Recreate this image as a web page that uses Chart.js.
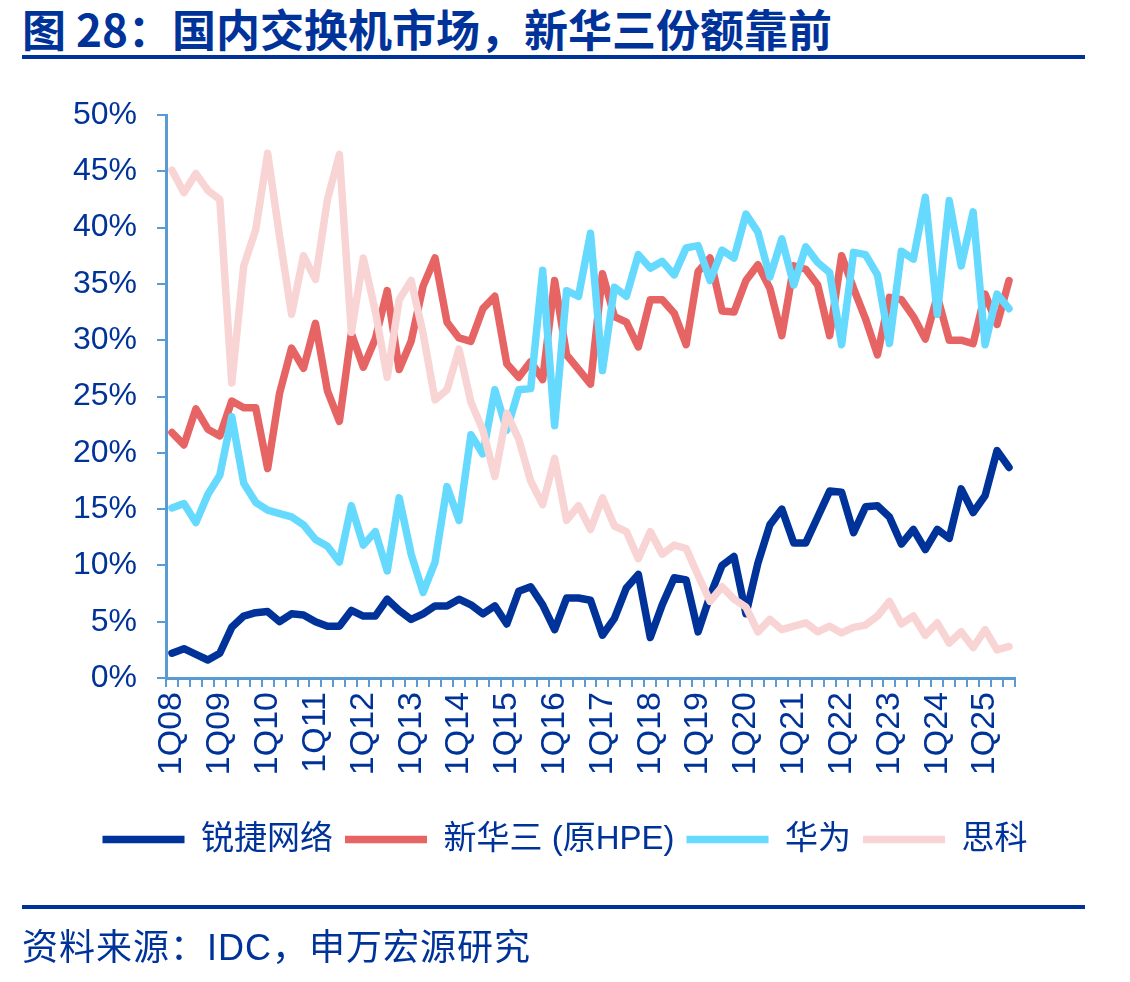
<!DOCTYPE html>
<html>
<head>
<meta charset="utf-8">
<script src="https://cdn.jsdelivr.net/npm/chart.js@4.4.1/dist/chart.umd.min.js"></script>
<style>
  html, body { margin:0; padding:0; background:#fff; }
  body { width:1130px; height:982px; position:relative; overflow:hidden; }
  .title { position:absolute; left:22px; top:2px; font:bold 44px/52px "Noto Sans CJK SC", sans-serif; color:#003399; white-space:nowrap; }
  .rule { position:absolute; left:22px; width:1063px; height:4px; background:#003399; }
  .source { position:absolute; left:22px; top:926px; font:36px/44px "Liberation Sans", "Noto Sans CJK SC", sans-serif; color:#003399; letter-spacing:1px; white-space:nowrap; }
  #chart { position:absolute; left:0; top:0; }
</style>
</head>
<body>
<div class="title">图 28：国内交换机市场，新华三份额靠前</div>
<div class="rule" style="top:55px"></div>
<canvas id="chart" width="1130" height="982"></canvas>
<div class="rule" style="top:905px"></div>
<div class="source">资料来源：IDC，申万宏源研究</div>
<script>
// quarters 1Q08 .. 3Q25
var years = ['08','09','10','11','12','13','14','15','16','17','18','19','20','21','22','23','24','25'];
var quarters = [];
years.forEach(function (y) {
    for (var q = 1; q <= 4; q++) {
        if (y === '25' && q > 3) break;
        quarters.push(q + 'Q' + y);
    }
});

var seriesNames = ['锐捷网络', '新华三 (原HPE)', '华为', '思科'];

// market share, %
var ruijie = [2.2,2.6,2.1,1.6,2.2,4.5,5.5,5.8,5.9,5.0,5.7,5.6,5.0,4.6,4.6,6.0,5.5,5.5,7.0,6.0,
              5.2,5.7,6.4,6.4,7.0,6.5,5.7,6.4,4.8,7.7,8.1,6.5,4.3,7.1,7.1,6.9,3.8,5.3,8.0,9.2,
              3.6,6.5,8.9,8.7,4.1,7.3,10.0,10.8,5.7,10.2,13.6,15.0,12.0,12.0,14.3,16.6,16.5,12.9,15.2,15.3,
              14.3,11.9,13.2,11.4,13.2,12.4,16.8,14.7,16.2,20.2,18.7];
var h3c    = [21.8,20.7,23.9,22.1,21.5,24.6,24.0,24.0,18.6,25.3,29.3,27.5,31.5,25.5,22.8,30.6,27.6,30.1,34.4,27.4,
              29.9,34.8,37.3,31.6,30.2,29.9,32.8,33.9,27.9,26.7,28.1,26.5,35.3,28.7,27.4,26.1,35.9,32.1,31.6,29.4,
              33.6,33.6,32.4,29.6,36.1,37.3,32.6,32.5,35.3,36.7,34.6,30.4,36.6,36.3,34.9,30.4,37.5,34.6,31.9,28.7,
              33.8,33.6,32.1,30.1,33.9,30.0,30.0,29.7,34.1,31.4,35.3];
var huawei = [15.1,15.5,13.8,16.3,18.0,23.2,17.3,15.6,14.9,14.6,14.3,13.6,12.3,11.7,10.3,15.3,11.8,13.0,9.5,16.0,
              11.0,7.6,10.3,17.0,14.0,21.6,19.9,25.6,22.0,25.6,25.7,36.2,22.4,34.4,33.9,39.5,27.3,34.7,33.9,37.6,
              36.4,37.0,35.8,38.2,38.4,35.3,38.0,37.3,41.2,39.6,35.6,39.0,34.9,38.3,36.9,36.0,29.6,37.8,37.6,35.8,
              29.7,37.9,37.2,42.7,32.3,42.4,36.6,41.4,29.6,34.1,32.8];
var cisco  = [45.1,43.1,44.8,43.3,42.5,26.2,36.6,39.8,46.6,39.2,32.3,37.5,35.4,42.5,46.5,30.7,37.3,32.6,26.7,33.6,
              35.3,30.6,24.7,25.6,29.2,24.5,22.0,17.9,23.5,21.2,17.5,15.4,19.5,14.0,15.3,13.2,16.0,13.5,13.0,10.6,
              13.0,11.0,11.8,11.5,9.1,6.8,8.1,7.0,6.3,4.1,5.2,4.3,4.6,4.9,4.1,4.6,4.0,4.5,4.7,5.5,
              6.8,4.8,5.5,3.8,4.9,3.1,4.1,2.7,4.3,2.5,2.8];

var yTicks = [0, 50, 5];

var navy = '#003399';
var axisBlue = '#5B9BD5';
var colors = ['#003399', '#E66464', '#66D9FF', '#F8D4D4'];
var values = [ruijie, h3c, huawei, cisco];

var latin = '"Liberation Sans", "Noto Sans CJK SC", sans-serif';

var datasets = values.map(function (v, i) {
    return {
        label: seriesNames[i], data: v,
        borderColor: colors[i], backgroundColor: colors[i],
        borderWidth: 7.5, pointRadius: 0, tension: 0,
        borderCapStyle: 'round', borderJoinStyle: 'round',
        order: 3 - i   // later series drawn on top, like the source
    };
});

new Chart(document.getElementById('chart'), {
    type: 'line',
    data: { labels: quarters, datasets: datasets },
    options: {
        responsive: false, animation: false, devicePixelRatio: 1,
        layout: { padding: { top: 115, bottom: 116, left: 0, right: 0 } },
        plugins: {
            tooltip: { enabled: false },
            legend: {
                position: 'bottom',
                labels: {
                    usePointStyle: true, pointStyle: 'line', pointStyleWidth: 82,
                    padding: 12, color: navy,
                    font: { size: 33, family: latin },
                    sort: function (a, b) { return a.datasetIndex - b.datasetIndex; }
                }
            }
        },
        scales: {
            x: {
                offset: true,
                grid: { offset: true, drawOnChartArea: false, drawTicks: true, tickLength: 9, color: axisBlue, lineWidth: 2 },
                border: { display: true, color: axisBlue, width: 3 },
                ticks: {
                    autoSkip: false, maxRotation: 90, minRotation: 90, padding: 5,
                    color: navy, font: { size: 34, family: latin },
                    callback: function (v, i) { return i % 4 === 0 ? this.getLabelForValue(v) : ''; }
                },
                afterFit: function (s) { s.height = 133; }
            },
            y: {
                min: yTicks[0], max: yTicks[1],
                grid: { drawOnChartArea: false, drawTicks: true, tickLength: 9, color: axisBlue, lineWidth: 2 },
                border: { display: true, color: axisBlue, width: 3 },
                ticks: { stepSize: yTicks[2], padding: 20, color: navy, font: { size: 32, family: latin },
                         callback: function (v) { return v + '%'; } },
                afterFit: function (s) { s.width = 166; }
            },
            pad: {
                position: 'right', display: true,
                grid: { display: false }, border: { display: false }, ticks: { display: false },
                afterFit: function (s) { s.width = 115; }
            }
        }
    }
});
</script>
</body>
</html>
